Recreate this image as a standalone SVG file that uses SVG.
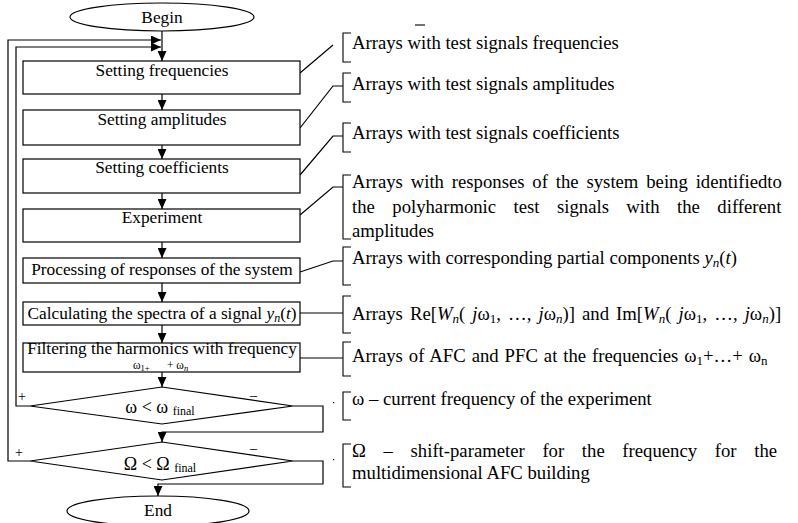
<svg xmlns="http://www.w3.org/2000/svg" width="798" height="523" viewBox="0 0 798 523">
<style>
.shape{fill:#fff;stroke:#000;stroke-width:1.2}
.ln{fill:none;stroke:#000;stroke-width:1.2}
.br{fill:none;stroke:#000;stroke-width:1.1}
text{font-family:"Liberation Serif","Times New Roman",serif;fill:#000}
.bt{font-size:17.3px;text-anchor:middle}
.at{font-size:18.7px}
.it{font-style:italic}
</style>
<defs>
<marker id="arr" markerUnits="userSpaceOnUse" markerWidth="10" markerHeight="9" refX="10" refY="4.5" orient="auto">
<path d="M0,0 L10,4.5 L0,9 z" fill="#000"/>
</marker>
</defs>
<rect width="798" height="523" fill="#fff"/>

<g id="connectors">
<line class="ln" x1="162" y1="31" x2="162" y2="61" marker-end="url(#arr)"/>
<line class="ln" x1="162" y1="94" x2="162" y2="110" marker-end="url(#arr)"/>
<line class="ln" x1="162" y1="145" x2="162" y2="159" marker-end="url(#arr)"/>
<line class="ln" x1="162" y1="193" x2="162" y2="209" marker-end="url(#arr)"/>
<line class="ln" x1="162" y1="242" x2="162" y2="258" marker-end="url(#arr)"/>
<line class="ln" x1="162" y1="283" x2="162" y2="302" marker-end="url(#arr)"/>
<line class="ln" x1="162" y1="325" x2="162" y2="343" marker-end="url(#arr)"/>
<line class="ln" x1="162" y1="372" x2="162" y2="387" marker-end="url(#arr)"/>
<polyline class="ln" points="293,406 323,406 323,432 162,432 162,442" marker-end="url(#arr)"/>
<polyline class="ln" points="293,461 323,461 323,484 158,484 158,496" marker-end="url(#arr)"/>
<polyline class="ln" points="30,406 16,406 16,47 161,47" marker-end="url(#arr)"/>
<polyline class="ln" points="30,461 8,461 8,40 161,40" marker-end="url(#arr)"/>
<polyline class="ln" points="300,73 333,45"/>
<polyline class="ln" points="300,128 333,86 343,86"/>
<polyline class="ln" points="300,175 333,136 343,136"/>
<polyline class="ln" points="300,215 333,187 343,187"/>
<polyline class="ln" points="300,272 333,261 343,261"/>
<polyline class="ln" points="300,313 343,313"/>
<polyline class="ln" points="300,358 343,358"/>
</g>

<g id="begin">
<ellipse class="shape" cx="162" cy="17" rx="92" ry="14"/>
<text class="bt" x="162" y="23" font-size="17.5">Begin</text>
</g>
<g id="box-frequencies">
<rect class="shape" x="23" y="61" width="277" height="33"/>
<text class="bt" x="162" y="76">Setting frequencies</text>
</g>
<g id="box-amplitudes">
<rect class="shape" x="23" y="110" width="277" height="35"/>
<text class="bt" x="162" y="125">Setting amplitudes</text>
</g>
<g id="box-coefficients">
<rect class="shape" x="23" y="159" width="277" height="34"/>
<text class="bt" x="162" y="173">Setting coefficients</text>
</g>
<g id="box-experiment">
<rect class="shape" x="23" y="209" width="277" height="33"/>
<text class="bt" x="162" y="223">Experiment</text>
</g>
<g id="box-processing">
<rect class="shape" x="23" y="258" width="277" height="25"/>
<text class="bt" x="162" y="275">Processing of responses of the system</text>
</g>
<g id="box-spectra">
<rect class="shape" x="23" y="302" width="277" height="23"/>
<text class="bt" x="162" y="319">Calculating the spectra of a signal <tspan class="it">y</tspan><tspan class="it" font-size="12" dy="3">n</tspan><tspan dy="-3">(</tspan><tspan class="it">t</tspan>)</text>
</g>
<g id="box-filtering">
<rect class="shape" x="23" y="343" width="277" height="29"/>
<text class="bt" x="162" y="354">Filtering the harmonics with frequency</text>
<text x="133" y="369" font-size="11.5">ω<tspan font-size="8.5" dy="1.5">1+</tspan></text>
<text x="167" y="369" font-size="11.5">+ ω<tspan class="it" font-size="8.5" dy="1.5">n</tspan></text>
</g>
<g id="decision-omega">
<polygon class="shape" points="30,406 162,387 293,406 162,424"/>
<text x="160" y="413" font-size="18" text-anchor="middle">ω &lt; ω <tspan font-size="12" dy="2">final</tspan></text>
<text x="18" y="401" font-size="14">+</text>
<text x="250" y="400" font-size="14">–</text>
</g>
<g id="decision-Omega">
<polygon class="shape" points="30,461 162,442 293,461 162,480"/>
<text x="160" y="470" font-size="18" text-anchor="middle">Ω &lt; Ω <tspan font-size="12" dy="2">final</tspan></text>
<text x="15" y="457" font-size="14">+</text>
<text x="250" y="453" font-size="14">–</text>
</g>
<g id="end">
<ellipse class="shape" cx="158" cy="511" rx="91" ry="15"/>
<text class="bt" x="158" y="516" font-size="17.5">End</text>
</g>

<g id="note-frequencies">
<path class="br" d="M351,33 H343 V62 H351"/>
<text class="at" x="352" y="49">Arrays with test signals frequencies</text>
<line class="br" x1="415" y1="25" x2="425" y2="25"/>
</g>
<g id="note-amplitudes">
<path class="br" d="M351,73 H343 V102 H351"/>
<text class="at" x="352" y="90">Arrays with test signals amplitudes</text>
</g>
<g id="note-coefficients">
<path class="br" d="M351,123 H343 V152 H351"/>
<text class="at" x="352" y="139">Arrays with test signals coefficients</text>
</g>
<g id="note-responses">
<path class="br" d="M351,175 H343 V239 H351"/>
<text class="at" x="352" y="188" word-spacing="3.2">Arrays with responses of the system being identifiedto</text>
<text class="at" x="352" y="213" word-spacing="12.8">the polyharmonic test signals with the different</text>
<text class="at" x="352" y="237">amplitudes</text>
</g>
<g id="note-partial">
<path class="br" d="M351,247 H343 V285 H351"/>
<text class="at" x="352" y="264">Arrays with corresponding partial components  <tspan class="it">y</tspan><tspan class="it" font-size="13" dy="3">n</tspan><tspan dy="-3">(</tspan><tspan class="it">t</tspan>)</text>
</g>
<g id="note-spectra">
<path class="br" d="M351,296 H343 V333 H351"/>
<text class="at" x="352" y="320" word-spacing="2.4">Arrays Re[<tspan class="it">W</tspan><tspan class="it" font-size="13" dy="3">n</tspan><tspan dy="-3">( </tspan><tspan class="it">j</tspan>ω<tspan font-size="13" dy="3">1</tspan><tspan dy="-3">,  …,  </tspan><tspan class="it">j</tspan>ω<tspan class="it" font-size="13" dy="3">n</tspan><tspan dy="-3">)] and  Im[</tspan><tspan class="it">W</tspan><tspan class="it" font-size="13" dy="3">n</tspan><tspan dy="-3">( </tspan><tspan class="it">j</tspan>ω<tspan font-size="13" dy="3">1</tspan><tspan dy="-3">,  …,  </tspan><tspan class="it">j</tspan>ω<tspan class="it" font-size="13" dy="3">n</tspan><tspan dy="-3">)]</tspan></text>
</g>
<g id="note-afc">
<path class="br" d="M351,342 H343 V376 H351"/>
<text class="at" x="352" y="362" word-spacing="1.3">Arrays of AFC and PFC at the frequencies ω<tspan font-size="13" dy="3">1</tspan><tspan dy="-3">+…+ ω</tspan><tspan font-size="13" dy="3">n</tspan></text>
</g>
<g id="note-omega">
<rect x="333" y="402" width="1.2" height="1.2" fill="#000"/>
<path class="br" d="M351,392 H343 V420 H351"/>
<text class="at" x="352" y="405">ω – current frequency of the experiment</text>
</g>
<g id="note-Omega">
<rect x="333" y="459" width="1.2" height="1.2" fill="#000"/>
<path class="br" d="M351,444 H343 V487 H351"/>
<text class="at" x="352" y="457" word-spacing="13">Ω – shift-parameter for the frequency for the</text>
<text class="at" x="352" y="479">multidimensional AFC building</text>
</g>
</svg>
